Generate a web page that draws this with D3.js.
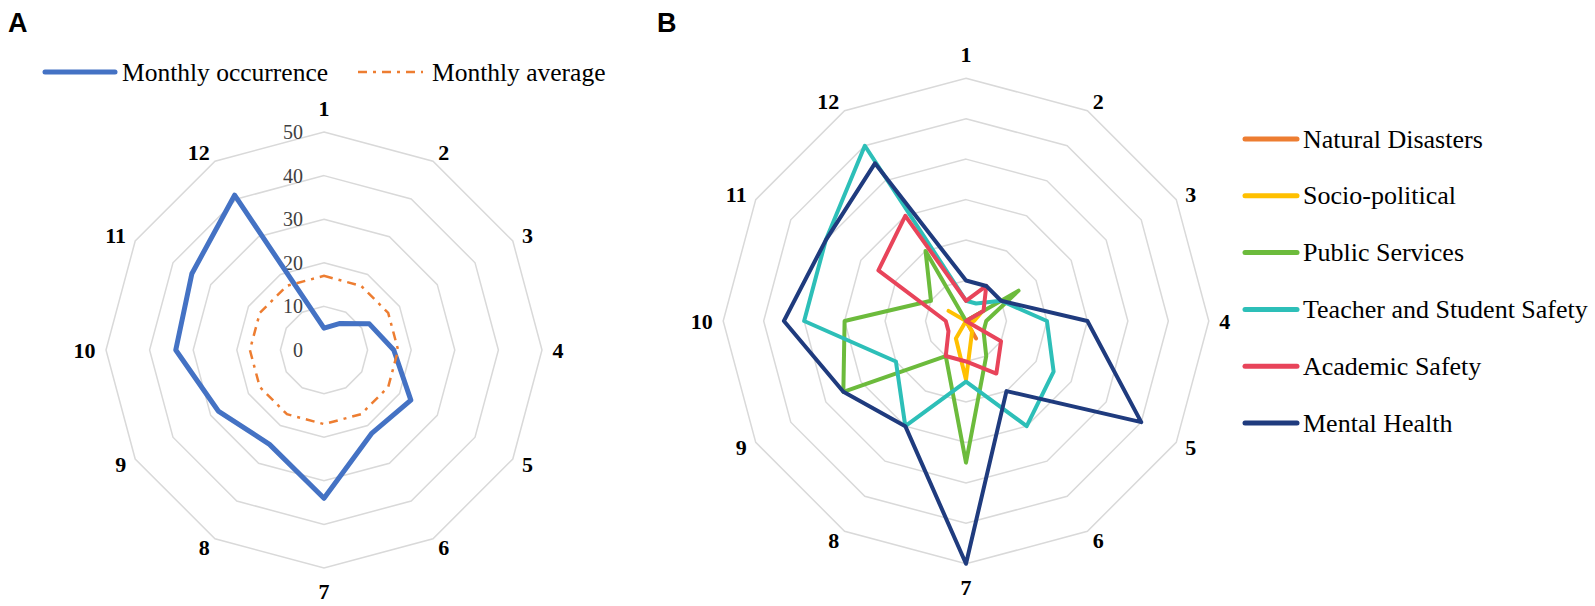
<!DOCTYPE html>
<html>
<head>
<meta charset="utf-8">
<script src="https://cdn.jsdelivr.net/npm/d3@7"></script>
<style>
  body { margin: 0; background: #fff; }
  svg { display: block; }
</style>
</head>
<body>
<div id="chart"></div>
<script>
// Month axes shared by both radars
const months = ["1", "2", "3", "4", "5", "6", "7", "8", "9", "10", "11", "12"];

// Panel A: monthly occurrence vs monthly average
const monthlyOccurrence = [5, 7, 12, 16, 23, 22, 34, 25, 28, 34, 35, 41];
const monthlyAverage = [17, 17, 17, 17, 17, 17, 17, 17, 17, 17, 17, 17];
const occurrenceTicks = [0, 10, 20, 30, 40, 50];

// Panel B: occurrence by category
const categories = [
  "Natural Disasters",
  "Socio-political",
  "Public Services",
  "Teacher and Student Safety",
  "Academic Safety",
  "Mental Health",
];
const categoryColors = ["#ED7D31", "#FFC000", "#6CBB3C", "#2DBFB8", "#E8445A", "#1F3B7E"];
const naturalDisasters = [0, 0, 0, 0, 0, 1, 0, 0, 0, 0, 0, 0];
const socioPolitical = [0, 0, 0.9, 0.4, 0, 0.6, 2.9, 1, 0, 0, 1, 0];
const publicServices = [0, 0, 3, 1, 1, 2, 7, 2, 7, 6, 2, 4];
const teacherStudentSafety = [1, 1, 2, 4, 5, 6, 3, 6, 4, 8, 8, 10];
const academicSafety = [1, 2, 1, 0, 2, 3, 2, 2, 1, 1, 5, 6];
const mentalHealth = [2, 2, 2, 6, 10, 4, 12, 6, 7, 9, 8, 9];
const categoryTicks = [0, 2, 4, 6, 8, 10, 12];

const width = 1595,
  height = 606;

const svg = d3
  .select("#chart")
  .append("svg")
  .attr("width", width)
  .attr("height", height)
  .style("background", "#fff");

/**
 * drawRadarFrame
 * Draws the polygon rings and bold month labels around a radar.
 * Returns the scales so series can be added on top.
 */
function drawRadarFrame(g, radius, ticks) {
  const angle = d3
    .scaleLinear()
    .domain([0, months.length])
    .range([0, 2 * Math.PI]);
  const r = d3
    .scaleLinear()
    .domain([0, d3.max(ticks)])
    .range([0, radius]);

  const ring = (v) =>
    d3
      .lineRadial()
      .angle((d, i) => angle(i))
      .radius(() => r(v))
      .curve(d3.curveLinearClosed)(months);

  // Grid rings (skip 0, it's just the centre)
  g.append("g")
    .attr("class", "grid")
    .selectAll("path")
    .data(ticks.filter((t) => t > 0))
    .enter()
    .append("path")
    .attr("d", (d) => ring(d))
    .attr("fill", "none")
    .attr("stroke", "#d9d9d9")
    .attr("stroke-width", 1.5);

  // Month labels: anchored by side, pushed out a bit more at top/bottom
  g.append("g")
    .attr("class", "month-labels")
    .selectAll("text")
    .data(months)
    .enter()
    .append("text")
    .each(function (d, i) {
      const a = angle(i);
      const s = Math.sin(a),
        c = Math.cos(a);
      const vertical = Math.abs(s) < 0.1;
      const rr = radius + 10.5 + (vertical ? 13 : 0);
      d3.select(this)
        .attr("x", rr * s)
        .attr("y", -rr * c)
        .attr("text-anchor", vertical ? "middle" : s > 0 ? "start" : "end");
    })
    .attr("dominant-baseline", "central")
    .style("font-family", "'Liberation Serif', 'Times New Roman', serif")
    .style("font-weight", "bold")
    .style("font-size", "22px")
    .attr("fill", "#000")
    .text((d) => d);

  return { angle, r };
}

// Line generator for one series on a radar
function seriesPath(scales, values) {
  return d3
    .lineRadial()
    .angle((d, i) => scales.angle(i))
    .radius((d) => scales.r(d))
    .curve(d3.curveLinearClosed)(values);
}

// ---------------- Panel A ----------------
const gA = svg.append("g").attr("transform", "translate(324,350)");
const scalesA = drawRadarFrame(gA, 218, occurrenceTicks);

gA.append("g")
  .attr("class", "ticks")
  .selectAll("text")
  .data(occurrenceTicks)
  .enter()
  .append("text")
  .attr("x", -21)
  .attr("y", (d) => -scalesA.r(d))
  .attr("text-anchor", "end")
  .attr("dominant-baseline", "central")
  .style("font-family", "'Liberation Serif', 'Times New Roman', serif")
  .style("font-size", "20px")
  .attr("fill", "#404040")
  .text((d) => d);

gA.append("path")
  .attr("d", seriesPath(scalesA, monthlyOccurrence))
  .attr("fill", "none")
  .attr("stroke", "#4472C4")
  .attr("stroke-width", 5)
  .attr("stroke-linejoin", "round");

gA.append("path")
  .attr("d", seriesPath(scalesA, monthlyAverage))
  .attr("fill", "none")
  .attr("stroke", "#ED7D31")
  .attr("stroke-width", 2.5)
  .attr("stroke-dasharray", "9,6,3,6");

// Legend A (horizontal, above the radar)
const legendA = [
  { label: "Monthly occurrence", color: "#4472C4", width: 5, dash: null, x: 45 },
  { label: "Monthly average", color: "#ED7D31", width: 2.5, dash: "9,6,3,6", x: 358 },
];
const lgA = svg
  .append("g")
  .attr("class", "legend-a")
  .selectAll("g")
  .data(legendA)
  .enter()
  .append("g")
  .attr("transform", (d) => `translate(${d.x},72)`);
lgA.append("line")
  .attr("x1", 0)
  .attr("x2", (d) => (d.dash ? 65 : 70))
  .attr("stroke", (d) => d.color)
  .attr("stroke-width", (d) => d.width)
  .attr("stroke-dasharray", (d) => d.dash)
  .attr("stroke-linecap", (d) => (d.dash ? "butt" : "round"));
lgA.append("text")
  .attr("x", (d) => (d.dash ? 74 : 77))
  .attr("y", 8.5)
  .style("font-family", "'Liberation Serif', 'Times New Roman', serif")
  .style("font-size", "25.5px")
  .attr("fill", "#000")
  .text((d) => d.label);

// ---------------- Panel B ----------------
const gB = svg.append("g").attr("transform", "translate(966,321)");
const scalesB = drawRadarFrame(gB, 242.8, categoryTicks);

const categoryValues = [
  naturalDisasters,
  socioPolitical,
  publicServices,
  teacherStudentSafety,
  academicSafety,
  mentalHealth,
];

gB.append("g")
  .attr("class", "series")
  .selectAll("path")
  .data(categoryValues)
  .enter()
  .append("path")
  .attr("d", (d) => seriesPath(scalesB, d))
  .attr("fill", "none")
  .attr("stroke", (d, i) => categoryColors[i])
  .attr("stroke-width", 4)
  .attr("stroke-linejoin", "round");

// Legend B (vertical list on the right)
const legendY = d3
  .scalePoint()
  .domain(categories)
  .range([139, 423]);
const lgB = svg
  .append("g")
  .attr("class", "legend-b")
  .selectAll("g")
  .data(categories)
  .enter()
  .append("g")
  .attr("transform", (d) => `translate(1245,${legendY(d)})`);
lgB.append("line")
  .attr("x1", 0)
  .attr("x2", 52)
  .attr("stroke", (d, i) => categoryColors[i])
  .attr("stroke-width", 5)
  .attr("stroke-linecap", "round");
lgB.append("text")
  .attr("x", 58)
  .attr("y", 8.5)
  .style("font-family", "'Liberation Serif', 'Times New Roman', serif")
  .style("font-size", "26px")
  .attr("fill", "#000")
  .text((d) => d);

// Panel letters
svg.selectAll(".panel-letter")
  .data([
    { t: "A", x: 8 },
    { t: "B", x: 657 },
  ])
  .enter()
  .append("text")
  .attr("class", "panel-letter")
  .attr("x", (d) => d.x)
  .attr("y", 32)
  .style("font-family", "'Liberation Sans', Arial, sans-serif")
  .style("font-weight", "bold")
  .style("font-size", "27px")
  .attr("fill", "#000")
  .text((d) => d.t);
</script>
</body>
</html>
